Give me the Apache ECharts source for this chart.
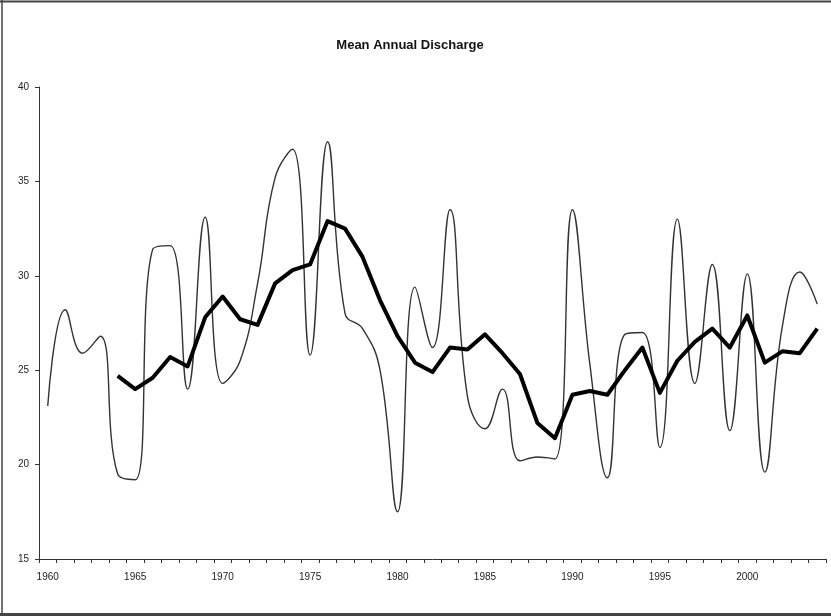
<!DOCTYPE html>
<html>
<head>
<meta charset="utf-8">
<title>Mean Annual Discharge</title>
<script src="https://cdn.jsdelivr.net/npm/echarts@6/dist/echarts.min.js"></script>
<style>
  html, body { margin: 0; padding: 0; background: #ffffff; }
  #chart { width: 831px; height: 616px; }
</style>
</head>
<body>
<div id="chart"></div>
<script>
// Years on the category axis
const years = [];
for (let y = 1960; y <= 2004; y++) years.push(String(y));

// Annual mean discharge, one value per year
const discharge = [
  23.1, 28.2, 25.9, 26.8, 19.5, 19.2, 31.4, 31.6, 24.0, 33.1,
  24.3, 25.5, 29.6, 35.2, 36.7, 25.8, 37.1, 28.0, 27.2, 25.0,
  17.5, 29.4, 26.2, 33.5, 23.6, 21.9, 24.0, 20.2, 20.4, 20.3,
  33.5, 25.3, 19.3, 26.9, 27.0, 20.9, 33.0, 24.3, 30.6, 21.8,
  30.1, 19.6, 27.3, 30.2, 28.5
];

// Five-year running mean (defined from 1964 onwards)
const runningMean = [
  null, null, null, null,
  24.7, 24.0, 24.6, 25.7, 25.2, 27.8,
  28.9, 27.7, 27.4, 29.6, 30.3, 30.6, 32.9, 32.5, 31.0, 28.7,
  26.8, 25.4, 24.9, 26.2, 26.1, 26.9, 25.9, 24.8, 22.2, 21.4,
  23.7, 23.9, 23.7, 25.0, 26.2, 23.8, 25.5, 26.5, 27.2, 26.2,
  27.9, 25.4, 26.0, 25.9, 27.2
];

// Value axis ticks
const yMin = 15, yMax = 40, yStep = 5;

const chart = echarts.init(document.getElementById('chart'), null, { renderer: 'canvas' });

const axisColor = '#333333';
const labelFont = { fontFamily: 'Liberation Sans, Arial, sans-serif', fontSize: 10, color: '#222222' };

chart.setOption({
  backgroundColor: '#ffffff',
  animation: false,
  title: {
    text: 'Mean Annual Discharge',
    left: 405,
    top: 34,
    textAlign: 'center',
    textStyle: {
      fontFamily: 'Liberation Sans, Arial, sans-serif',
      fontSize: 13,
      fontWeight: 'bold',
      color: '#111111'
    }
  },
  grid: { left: 39, right: 5, top: 87, bottom: 57, containLabel: false },
  xAxis: {
    type: 'category',
    data: years,
    boundaryGap: true,
    axisLine: { lineStyle: { color: axisColor, width: 1 } },
    axisTick: { show: true, interval: 0, length: 4, lineStyle: { color: axisColor } },
    axisLabel: Object.assign({ interval: 4, margin: 13 }, labelFont),
    splitLine: { show: false }
  },
  yAxis: {
    type: 'value',
    min: yMin,
    max: yMax,
    interval: yStep,
    axisLine: { show: true, lineStyle: { color: axisColor, width: 1 } },
    axisTick: { show: true, length: 4, lineStyle: { color: axisColor } },
    axisLabel: Object.assign({ margin: 10 }, labelFont),
    splitLine: { show: false }
  },
  series: [
    {
      name: 'Discharge',
      type: 'line',
      data: discharge,
      smooth: 0.45,
      symbol: 'none',
      lineStyle: { color: '#333333', width: 1.4 },
      z: 2
    },
    {
      name: '5-yr mean',
      type: 'line',
      data: runningMean,
      smooth: false,
      connectNulls: false,
      symbol: 'none',
      lineStyle: { color: '#000000', width: 4, join: 'round' },
      z: 3
    }
  ],
  graphic: [
    { type: 'line', shape: { x1: 0, y1: 1.5, x2: 831, y2: 1.5 }, style: { stroke: '#444444', lineWidth: 2 } },
    { type: 'line', shape: { x1: 2, y1: 0, x2: 2, y2: 616 }, style: { stroke: '#444444', lineWidth: 1.5 } },
    { type: 'line', shape: { x1: 0, y1: 614.5, x2: 831, y2: 614.5 }, style: { stroke: '#444444', lineWidth: 3 } }
  ]
});
</script>
</body>
</html>
